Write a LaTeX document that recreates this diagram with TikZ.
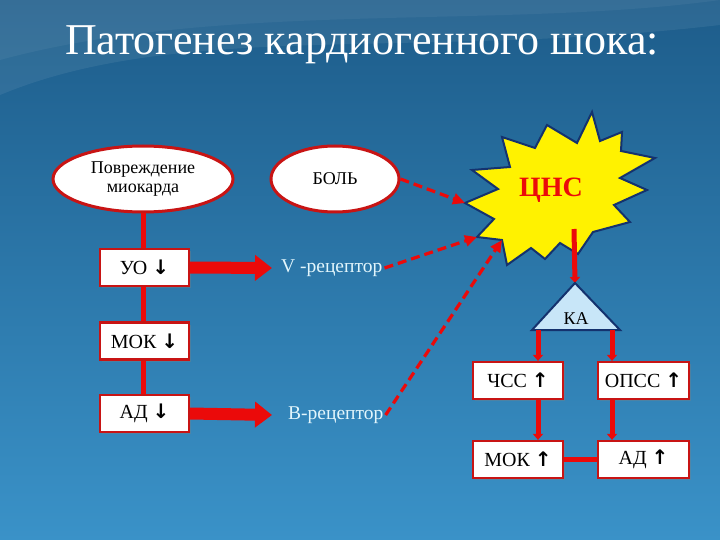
\documentclass[tikz,border=0pt]{standalone}
\usepackage{fontspec}
\setmainfont{Liberation Serif}
\newfontfamily\arrfont{DejaVu Sans}
\usetikzlibrary{arrows.meta,shapes.geometric,shadows}
\definecolor{bgtop}{RGB}{29,92,138}
\definecolor{bgbot}{RGB}{58,146,200}
\definecolor{boxred}{RGB}{200,20,20}
\definecolor{linered}{RGB}{235,10,10}
\definecolor{starblue}{RGB}{20,50,110}
\definecolor{kablue}{RGB}{200,230,248}
\definecolor{rectxt}{RGB}{226,246,252}
\newcommand{\dn}{{\arrfont\bfseries ↓}}
\newcommand{\upar}{{\arrfont\bfseries ↑}}
\begin{document}
\begin{tikzpicture}[x=1pt,y=-1pt,
  ell/.style={ellipse, draw=boxred, line width=3pt, fill=white, minimum width=180pt,
    minimum height=66pt, inner sep=0pt, align=center, font=\fontsize{18}{19}\selectfont},
  box/.style={rectangle, draw=boxred, line width=2.2pt, fill=white, minimum width=89pt,
    minimum height=37pt, inner sep=0pt, font=\fontsize{20}{22}\selectfont,
    drop shadow={shadow xshift=2pt, shadow yshift=-2pt, opacity=0.35}},
  conn/.style={draw=linered, line width=5pt},
  connhead/.style={conn, -{Triangle[length=6pt,width=10pt]}},
  bigarrow/.style={draw=linered, line width=12pt, -{Triangle[length=17pt,width=25pt]}},
  dasharrow/.style={draw=linered, line width=3.2pt, dash pattern=on 9pt off 5pt,
    -{Triangle[length=12pt,width=11pt]}},
  rec/.style={text=rectxt, font=\fontsize{19.5}{21}\selectfont, inner sep=2pt}
]
\useasboundingbox (0,0) rectangle (720,540);
% background
\shade[top color=bgtop, bottom color=bgbot] (0,0) rectangle (720,540);
\fill[white, opacity=0.07] (0,95) .. controls (180,20) and (420,60) .. (720,25) -- (720,0) -- (0,0) -- cycle;
\fill[white, opacity=0.05] (0,60) .. controls (220,0) and (500,30) .. (720,0) -- (0,0) -- cycle;
% title
\node[text=white, font=\fontsize{44}{48}\selectfont] (title) at (362,45) {Патогенез кардиогенного шока:};
% left column
\node[ell] (e1) at (143,179) {Повреждение\\миокарда};
\node[ell, minimum width=128pt] (e2) at (335,179) {БОЛЬ};
\node[box] (uo) at (144.5,267.5) {УО \dn};
\node[box] (mok1) at (144.5,341) {МОК \dn};
\node[box] (ad1) at (144.5,413.5) {АД \dn};
\draw[conn] (e1.south) -- (uo.north -| e1.south);
\draw[conn] (uo.south -| e1.south) -- (mok1.north -| e1.south);
\draw[conn] (mok1.south -| e1.south) -- (ad1.north -| e1.south);
% receptors
\node[rec, anchor=west] (vrec) at (279,268) {V -рецептор};
\node[rec, anchor=west] (brec) at (286,415) {В-рецептор};
\draw[bigarrow] (uo.east) -- ([xshift=-7pt]vrec.west);
\draw[bigarrow] (ad1.east) -- ([xshift=-14pt]brec.west);
% star
\coordinate (s1) at (592,112);
\coordinate (s2) at (577,143);
\coordinate (s3) at (547,125);
\coordinate (s4) at (535,148);
\coordinate (s5) at (502,137);
\coordinate (s6) at (510,167);
\coordinate (s7) at (472,170);
\coordinate (s8) at (498,189);
\coordinate (s9) at (465,203);
\coordinate (s10) at (494,219);
\coordinate (s11) at (477,237);
\coordinate (s12) at (502,240);
\coordinate (s13) at (507,265);
\coordinate (s14) at (531,248);
\coordinate (s15) at (545,259);
\coordinate (s16) at (560,243);
\coordinate (s17) at (578,254);
\coordinate (s18) at (593,232);
\coordinate (s19) at (630,222);
\coordinate (s20) at (614,205);
\coordinate (s21) at (647,190);
\coordinate (s22) at (620,178);
\coordinate (s23) at (655,158);
\coordinate (s24) at (621,151);
\coordinate (s25) at (622,132);
\coordinate (s26) at (600,141);
\draw[fill=yellow, draw=starblue, line width=2pt, line join=miter]
  (s1) -- (s2) -- (s3) -- (s4) -- (s5) -- (s6) -- (s7) -- (s8) -- (s9) -- (s10) -- (s11) -- (s12) -- (s13)
  -- (s14) -- (s15) -- (s16) -- (s17) -- (s18) -- (s19) -- (s20) -- (s21) -- (s22) -- (s23) -- (s24)
  -- (s25) -- (s26) -- cycle;
\node[text=linered, font=\fontsize{28}{30}\selectfont\bfseries] (cns) at (551,190) {ЦНС};
% dashed arrows
\draw[dasharrow] (e2.east) -- (s9);
\draw[dasharrow] (vrec.east) -- (s11);
\draw[dasharrow] (brec.east) -- (s12);
% KA triangle
\coordinate (kaTop) at (575,283);
\coordinate (kaL) at (532,330);
\coordinate (kaR) at (620,330);
\coordinate (kaB1) at (538,330);
\coordinate (kaB2) at (612,330);
\coordinate (cnsBot) at (574,229);
\draw[connhead] (cnsBot) -- (kaTop);
\draw[fill=kablue, draw=starblue, line width=2pt] (kaTop) -- (kaR) -- (kaL) -- cycle;
\node[font=\fontsize{18}{20}\selectfont] (ka) at (576,319) {КА};
% right boxes
\node[box, minimum width=90pt] (chss) at (518,380.5) {ЧСС \upar};
\node[box, minimum width=91pt] (opss) at (643.5,380.5) {ОПСС \upar};
\node[box, minimum width=90pt] (mok2) at (518,459.5) {МОК \upar};
\node[box, minimum width=91pt] (ad2) at (643.5,459.5) {АД \upar};
\draw[connhead] (kaB1) -- (chss.north -| kaB1);
\draw[connhead] (kaB2) -- (opss.north -| kaB2);
\draw[connhead] (chss.south -| kaB1) -- (mok2.north -| kaB1);
\draw[connhead] (opss.south -| kaB2) -- (ad2.north -| kaB2);
\draw[conn] (mok2.east) -- (ad2.west);
\end{tikzpicture}
\end{document}
